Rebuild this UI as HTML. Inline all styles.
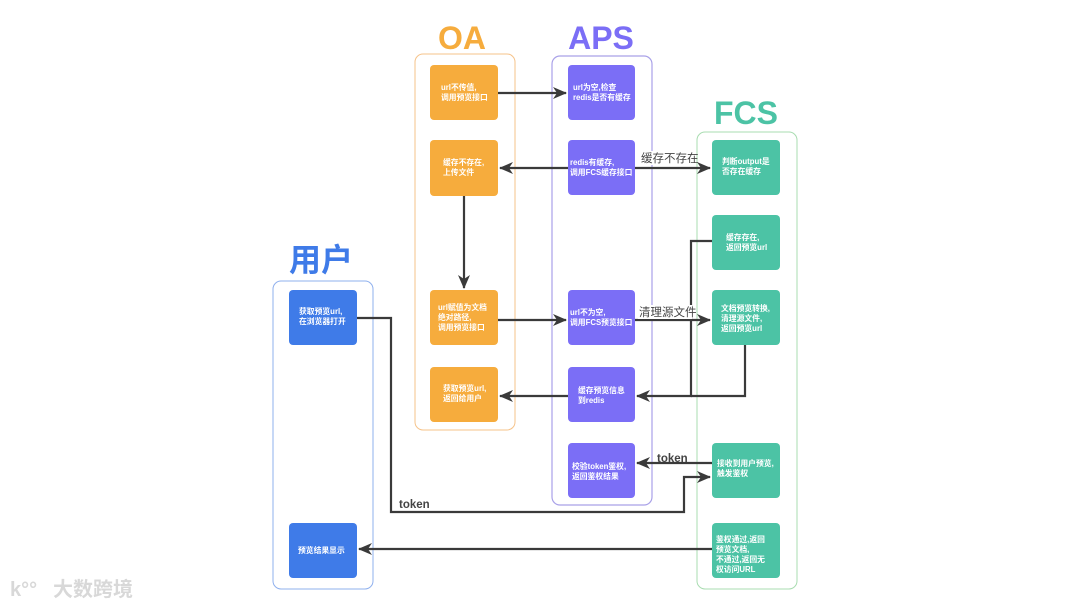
<!DOCTYPE html>
<html><head><meta charset="utf-8"><style>
body{margin:0;background:#fff;width:1080px;height:608px;overflow:hidden}
svg{display:block}
.t{font-family:"Liberation Sans","Noto Sans CJK SC",sans-serif;font-weight:bold;font-size:32px;text-anchor:middle}
.n{font-family:"Liberation Sans","Noto Sans CJK SC",sans-serif;font-size:7.8px;fill:#fff;font-weight:bold}
.l{font-family:"Liberation Sans","Noto Sans CJK SC",sans-serif;font-size:11.5px;fill:#444}
.a{stroke:#3a3a3a;stroke-width:2.2;fill:none}
</style></head><body>
<svg width="1080" height="608" viewBox="0 0 1080 608">
<defs><marker id="m" markerWidth="14" markerHeight="14" refX="13" refY="6" orient="auto" markerUnits="userSpaceOnUse"><path d="M0,0 L14,6 L0,12 L4,6 Z" fill="#3a3a3a"/></marker></defs>
<rect x="273" y="281" width="100" height="308" rx="8" fill="none" stroke="#8fb0ee" stroke-width="1"/>
<rect x="415" y="54" width="100" height="376" rx="8" fill="none" stroke="#f6c38a" stroke-width="1"/>
<rect x="552" y="56" width="100" height="449" rx="8" fill="none" stroke="#a9a1e8" stroke-width="1.2"/>
<rect x="697" y="132" width="100" height="457" rx="8" fill="none" stroke="#a8dcb0" stroke-width="1"/>
<text class="t" x="321" y="271" fill="#3f7be8">用户</text>
<text class="t" x="462" y="49" fill="#f6ac3d">OA</text>
<text class="t" x="601" y="49" fill="#7b6ef6">APS</text>
<text class="t" x="746" y="124" fill="#4cc3a5">FCS</text>
<g fill="#f6ac3d">
<rect x="430" y="65" width="68" height="55" rx="4"/>
<rect x="430" y="140" width="68" height="56" rx="4"/>
<rect x="430" y="290" width="68" height="55" rx="4"/>
<rect x="430" y="367" width="68" height="55" rx="4"/>
</g>
<g fill="#7b6ef6">
<rect x="568" y="65" width="67" height="55" rx="4"/>
<rect x="568" y="140" width="67" height="55" rx="4"/>
<rect x="568" y="290" width="67" height="55" rx="4"/>
<rect x="568" y="367" width="67" height="55" rx="4"/>
<rect x="568" y="443" width="67" height="55" rx="4"/>
</g>
<g fill="#4cc3a5">
<rect x="712" y="140" width="68" height="55" rx="4"/>
<rect x="712" y="215" width="68" height="55" rx="4"/>
<rect x="712" y="290" width="68" height="55" rx="4"/>
<rect x="712" y="443" width="68" height="55" rx="4"/>
<rect x="712" y="523" width="68" height="55" rx="4"/>
</g>
<g fill="#3f7be8">
<rect x="289" y="290" width="68" height="55" rx="4"/>
<rect x="289" y="523" width="68" height="55" rx="4"/>
</g>
<text class="n" x="441" y="90">url不传值,</text><text class="n" x="441" y="100">调用预览接口</text>
<text class="n" x="443" y="165">缓存不存在,</text><text class="n" x="443" y="175">上传文件</text>
<text class="n" x="438" y="310">url赋值为文档</text><text class="n" x="438" y="320">绝对路径,</text><text class="n" x="438" y="330">调用预览接口</text>
<text class="n" x="443" y="391">获取预览url,</text><text class="n" x="443" y="401">返回给用户</text>
<text class="n" x="573" y="90">url为空,检查</text><text class="n" x="573" y="100">redis是否有缓存</text>
<text class="n" x="570" y="165">redis有缓存,</text><text class="n" x="570" y="175">调用FCS缓存接口</text>
<text class="n" x="570" y="315">url不为空,</text><text class="n" x="570" y="325">调用FCS预览接口</text>
<text class="n" x="578" y="393">缓存预览信息</text><text class="n" x="578" y="403">到redis</text>
<text class="n" x="572" y="469">校验token鉴权,</text><text class="n" x="572" y="479">返回鉴权结果</text>
<text class="n" x="722" y="164">判断output是</text><text class="n" x="722" y="174">否存在缓存</text>
<text class="n" x="726" y="240">缓存存在,</text><text class="n" x="726" y="250">返回预览url</text>
<text class="n" x="721" y="311">文档预览转换,</text><text class="n" x="721" y="321">清理源文件,</text><text class="n" x="721" y="331">返回预览url</text>
<text class="n" x="717" y="466">接收到用户预览,</text><text class="n" x="717" y="476">触发鉴权</text>
<text class="n" x="716" y="542">鉴权通过,返回</text><text class="n" x="716" y="552">预览文档,</text><text class="n" x="716" y="562">不通过,返回无</text><text class="n" x="716" y="572">权访问URL</text>
<text class="n" x="299" y="314">获取预览url,</text><text class="n" x="299" y="324">在浏览器打开</text>
<text class="n" x="298" y="553">预览结果显示</text>
<path class="a" d="M498,93 H566" marker-end="url(#m)"/>
<path class="a" d="M568,168 H500" marker-end="url(#m)"/>
<path class="a" d="M635,168 H710" marker-end="url(#m)"/>
<path class="a" d="M464,196 V288" marker-end="url(#m)"/>
<path class="a" d="M498,320 H566" marker-end="url(#m)"/>
<path class="a" d="M635,320 H710" marker-end="url(#m)"/>
<path class="a" d="M712,241 H691 V396 H637" marker-end="url(#m)"/>
<path class="a" d="M745,345 V396 H691"/>
<path class="a" d="M568,396 H500" marker-end="url(#m)"/>
<path class="a" d="M712,463 H637" marker-end="url(#m)"/>
<path class="a" d="M357,318 H391 V512 H684 V477 H710" marker-end="url(#m)"/>
<path class="a" d="M712,549 H359" marker-end="url(#m)"/>
<rect x="640" y="151" width="54" height="14" fill="#fff"/>
<text class="l" x="641" y="162">缓存不存在</text>
<rect x="638" y="305" width="54" height="14" fill="#fff"/>
<text class="l" x="639" y="316">清理源文件</text>
<text class="l" x="657" y="462" font-weight="bold">token</text>
<text class="l" x="399" y="508" font-weight="bold">token</text>
<text x="10" y="596" font-family="Liberation Sans,sans-serif" font-size="20" fill="#d8d8d8" font-weight="bold">k°°</text>
<text x="53" y="596" font-family="Liberation Sans,'Noto Sans CJK SC',sans-serif" font-size="20" fill="#d8d8d8" font-weight="bold">大数跨境</text>
</svg>
</body></html>
